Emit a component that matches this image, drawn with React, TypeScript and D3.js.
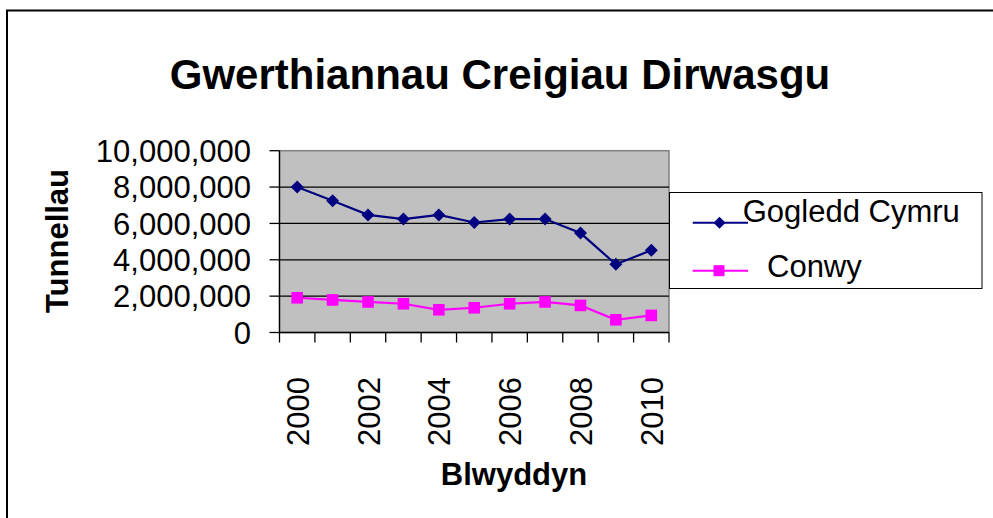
import React from "react";
import * as d3 from "d3";

const years = ["2000", "2001", "2002", "2003", "2004", "2005", "2006", "2007", "2008", "2009", "2010"];
const yearLabels = ["2000", "2002", "2004", "2006", "2008", "2010"];
const gogledd = [8000000, 7250000, 6470000, 6240000, 6470000, 6050000, 6240000, 6240000, 5470000, 3750000, 4520000];
const conwy = [1910000, 1790000, 1680000, 1580000, 1250000, 1360000, 1580000, 1680000, 1490000, 700000, 940000];
const yTicks = [0, 2000000, 4000000, 6000000, 8000000, 10000000];
const gridTicks = [2000000, 4000000, 6000000, 8000000];

const FONT = "'Liberation Sans', Arial, Helvetica, sans-serif";

export default function App() {
  const left = 279.5, right = 669, top = 150.7, bottom = 332.5;
  const x = d3.scaleBand<string>().domain(years).range([left, right]).padding(0);
  const y = d3.scaleLinear().domain([0, 10000000]).range([bottom, top]);
  const cx = (yr: string) => (x(yr) as number) + x.bandwidth() / 2;
  const line = d3.line<number>().x((_, i) => cx(years[i])).y((v) => y(v));
  const fmt = d3.format(",");
  const boundaries = years.map((yr) => x(yr) as number).concat([right]);

  const diamond = (px: number, py: number, r: number) =>
    `M${px},${py - r}L${px + r},${py}L${px},${py + r}L${px - r},${py}Z`;

  return (
    <svg width={993} height={518} style={{ position: "absolute", left: 0, top: 0, background: "#fff" }} fontFamily={FONT}>
      <rect x={0} y={0} width={993} height={518} fill="#fff" />
      <path d="M7,518V10.5H993" fill="none" stroke="#000" strokeWidth={2} />
      <text x={500} y={89} textAnchor="middle" fontSize={42} fontWeight="bold" fill="#000">
        Gwerthiannau Creigiau Dirwasgu
      </text>
      {/* plot area */}
      <rect x={left} y={top} width={right - left} height={bottom - top} fill="#C0C0C0" stroke="#808080" strokeWidth={1.5} />
      {gridTicks.map((t) => (
        <line key={t} x1={left} x2={right} y1={y(t)} y2={y(t)} stroke="#000" strokeWidth={1.3} />
      ))}
      {/* y axis */}
      <line x1={left} x2={left} y1={top} y2={bottom} stroke="#000" strokeWidth={1.3} />
      {yTicks.map((t) => (
        <g key={t}>
          <line x1={left - 10} x2={left} y1={y(t)} y2={y(t)} stroke="#000" strokeWidth={1.3} />
          <text x={251} y={y(t)} dy="0.36em" textAnchor="end" fontSize={31} fill="#000">
            {fmt(t)}
          </text>
        </g>
      ))}
      {/* x axis */}
      <line x1={left} x2={right} y1={bottom} y2={bottom} stroke="#000" strokeWidth={1.3} />
      {boundaries.map((b, i) => (
        <line key={i} x1={b} x2={b} y1={bottom} y2={bottom + 10} stroke="#000" strokeWidth={1.3} />
      ))}
      {yearLabels.map((yr) => (
        <text
          key={yr}
          transform={`translate(${cx(yr) + 11.5},377) rotate(-90)`}
          textAnchor="end"
          fontSize={31}
          fill="#000"
        >
          {yr}
        </text>
      ))}
      <text x={514} y={485} textAnchor="middle" fontSize={31} fontWeight="bold" fill="#000">
        Blwyddyn
      </text>
      <text transform="translate(68,241) rotate(-90)" textAnchor="middle" fontSize={31} fontWeight="bold" fill="#000">
        Tunnellau
      </text>
      {/* series */}
      <path d={line(gogledd) || ""} fill="none" stroke="#000080" strokeWidth={2.2} />
      {gogledd.map((v, i) => (
        <path key={i} d={diamond(cx(years[i]), y(v), 6.5)} fill="#000080" />
      ))}
      <path d={line(conwy) || ""} fill="none" stroke="#FF00FF" strokeWidth={2.2} />
      {conwy.map((v, i) => (
        <rect key={i} x={cx(years[i]) - 5.8} y={y(v) - 5.8} width={11.6} height={11.6} fill="#FF00FF" />
      ))}
      {/* legend */}
      <rect x={669.5} y={192.5} width={312.5} height={96} fill="#fff" stroke="#000" strokeWidth={1} />
      <line x1={692.7} x2={748} y1={222.7} y2={222.7} stroke="#000080" strokeWidth={2} />
      <path d={diamond(719.5, 222.7, 6)} fill="#000080" />
      <text x={742.7} y={222} fontSize={31} fill="#000">Gogledd Cymru</text>
      <line x1={692.7} x2={748} y1={270.7} y2={270.7} stroke="#FF00FF" strokeWidth={2} />
      <rect x={713.5} y={265.2} width={11} height={11} fill="#FF00FF" />
      <text x={767} y={277} fontSize={31} fill="#000">Conwy</text>
    </svg>
  );
}
